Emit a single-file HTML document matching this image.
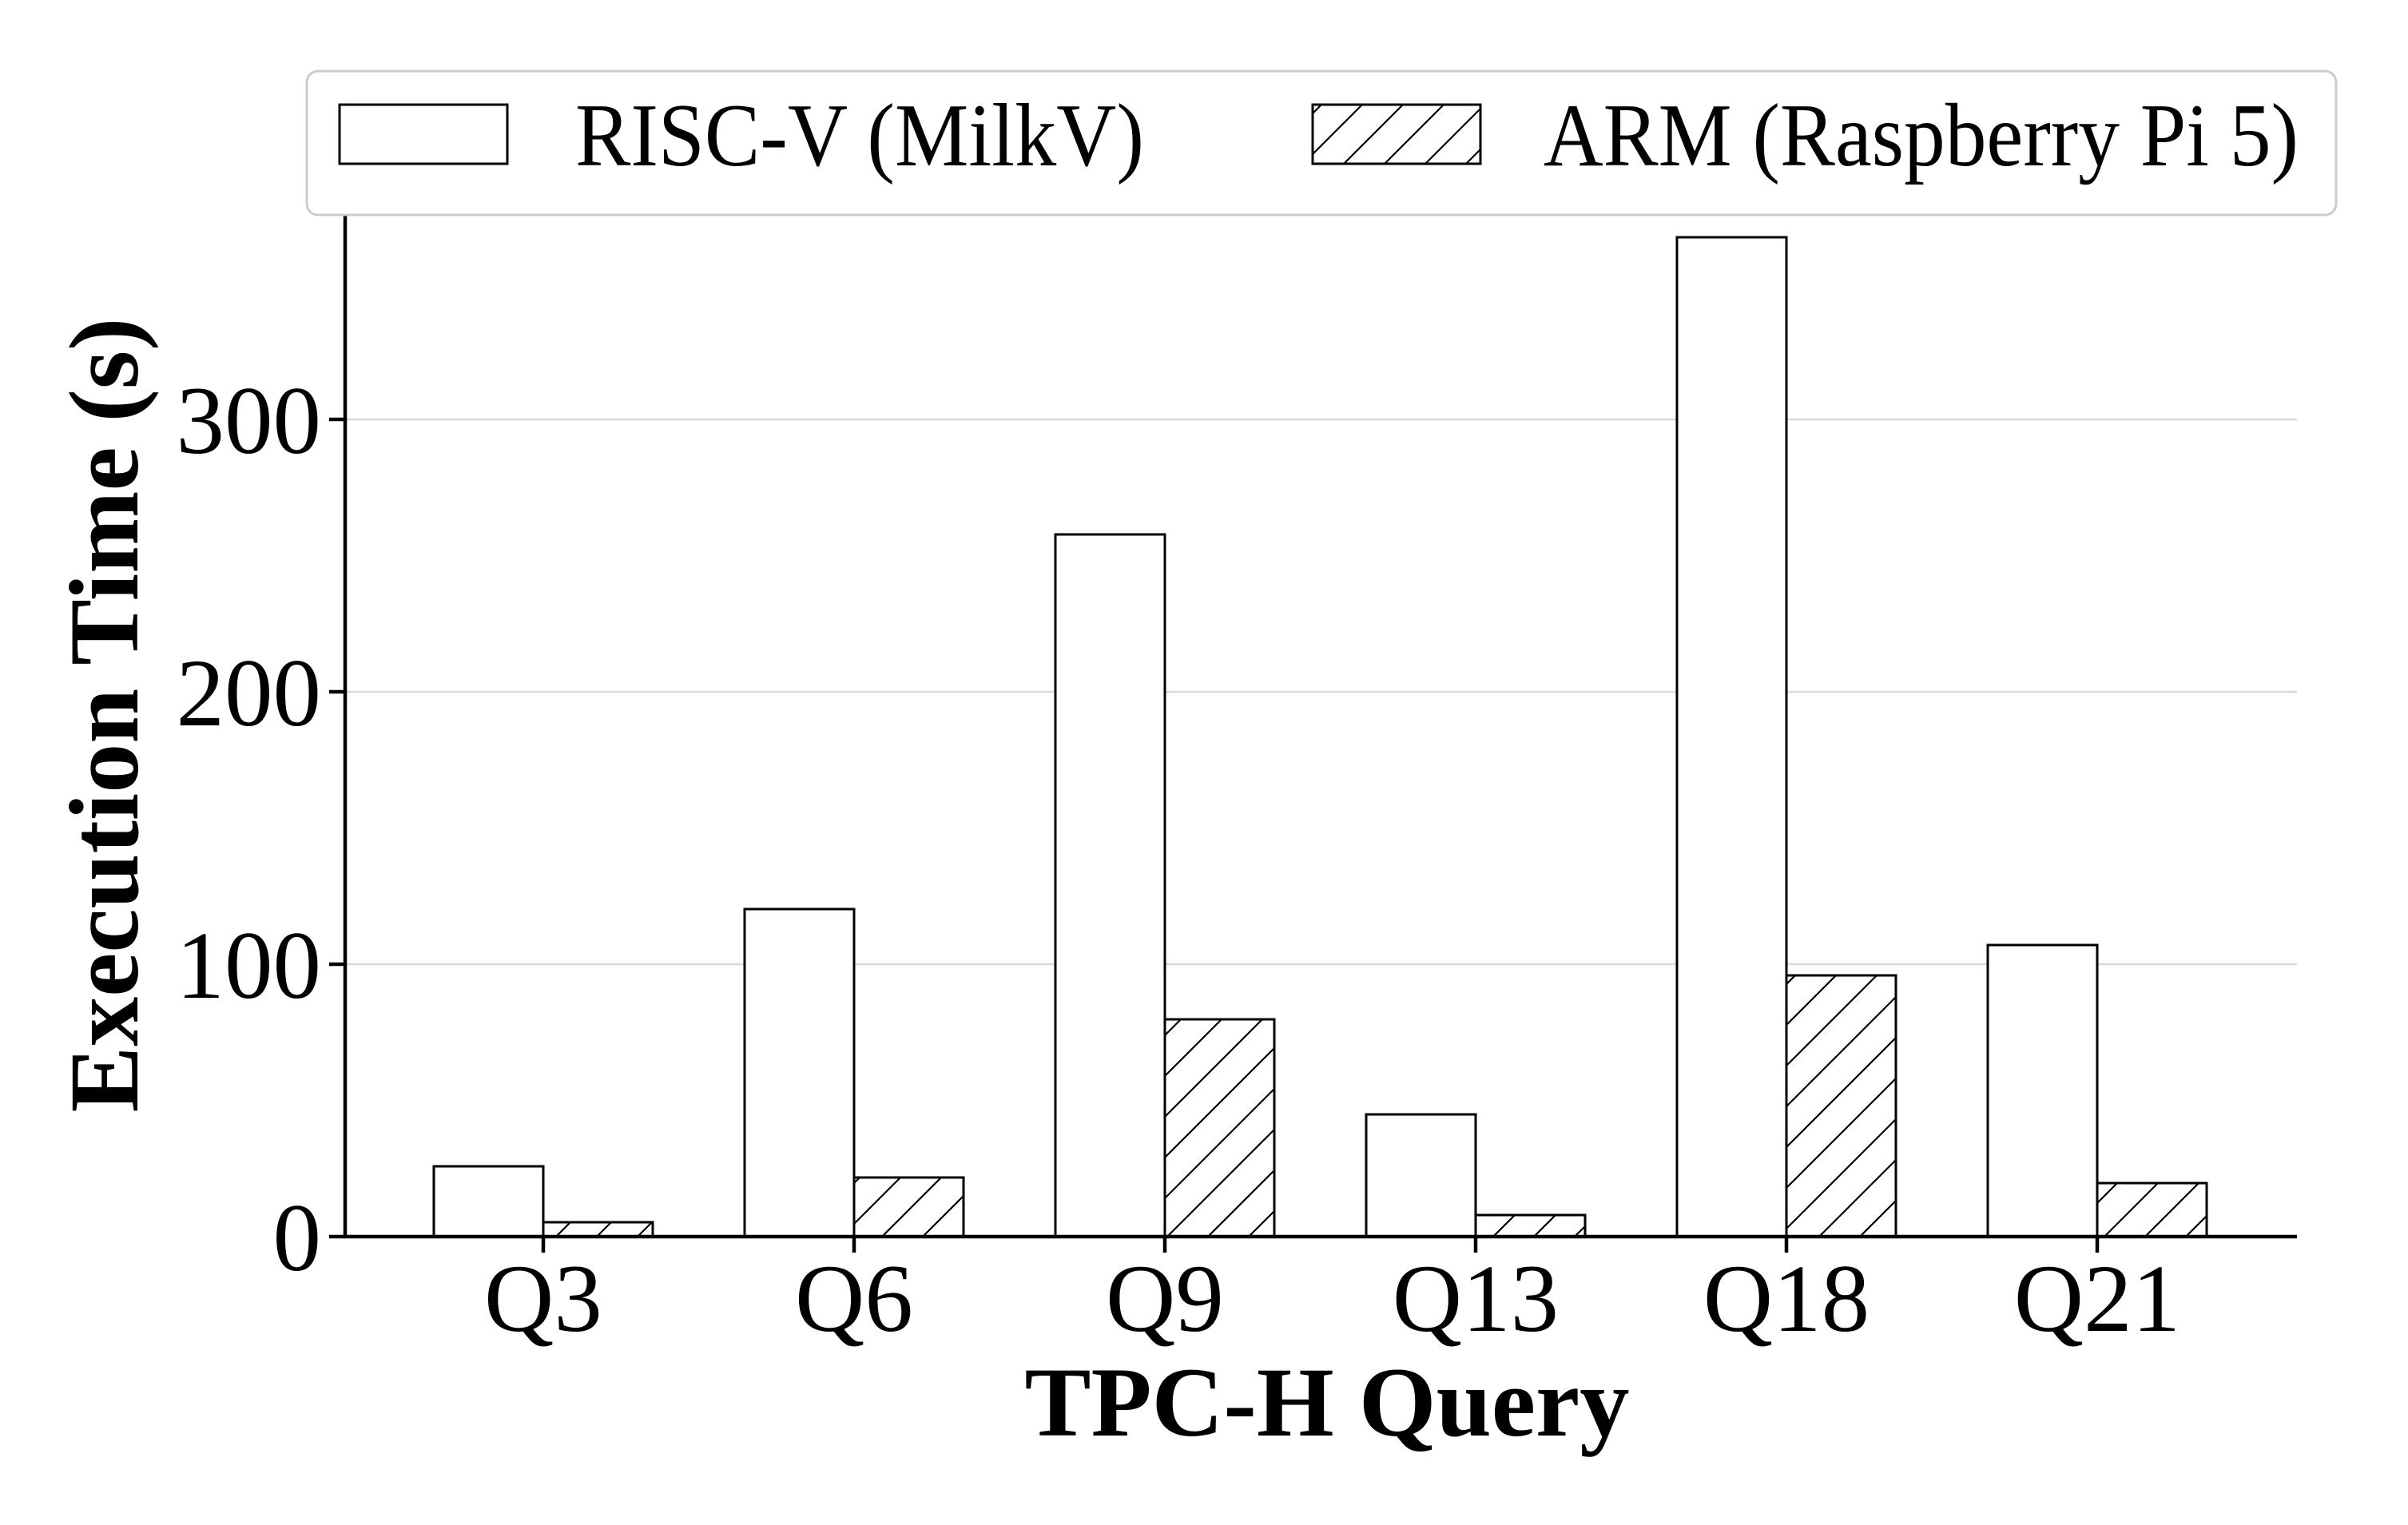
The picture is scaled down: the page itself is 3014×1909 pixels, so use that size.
<!DOCTYPE html>
<html><head><meta charset="utf-8"><style>html,body{margin:0;padding:0;background:#fff}svg{display:block}</style></head>
<body>
<svg width="3014" height="1909" viewBox="0 0 3014 1909" xmlns="http://www.w3.org/2000/svg" font-family="Liberation Serif, serif">
<defs>
<pattern id="h" patternUnits="userSpaceOnUse" width="51" height="51">
<path d="M-5,56 L56,-5 M-30,30 L30,-30 M21,81 L81,21" stroke="#000" stroke-width="2.2"/>
</pattern>
</defs>
<rect width="3014" height="1909" fill="#fff"/>
<g stroke="#d9d9d9" stroke-width="2.5">
<line x1="432" y1="1207" x2="2875" y2="1207"/>
<line x1="432" y1="866" x2="2875" y2="866"/>
<line x1="432" y1="525" x2="2875" y2="525"/>
</g>
<g stroke="#000" stroke-width="3">
<!-- Q3 -->
<rect x="543" y="1460" width="137" height="88" fill="#fff"/>
<rect x="680" y="1530" width="137" height="18" fill="url(#h)"/>
<!-- Q6 -->
<rect x="932" y="1138" width="137" height="410" fill="#fff"/>
<rect x="1069" y="1474" width="137" height="74" fill="url(#h)"/>
<!-- Q9 -->
<rect x="1321" y="669" width="137" height="879" fill="#fff"/>
<rect x="1458" y="1276" width="137" height="272" fill="url(#h)"/>
<!-- Q13 -->
<rect x="1710" y="1395" width="137" height="153" fill="#fff"/>
<rect x="1847" y="1521" width="137" height="27" fill="url(#h)"/>
<!-- Q18 -->
<rect x="2099" y="297" width="137" height="1251" fill="#fff"/>
<rect x="2236" y="1221" width="137" height="327" fill="url(#h)"/>
<!-- Q21 -->
<rect x="2488" y="1183" width="137" height="365" fill="#fff"/>
<rect x="2625" y="1481" width="137" height="67" fill="url(#h)"/>
</g>
<g stroke="#000" stroke-width="4.5">
<line x1="432" y1="269" x2="432" y2="1550"/>
<line x1="430" y1="1548" x2="2875" y2="1548"/>
<line x1="412" y1="1548" x2="432" y2="1548"/>
<line x1="412" y1="1207" x2="432" y2="1207"/>
<line x1="412" y1="866" x2="432" y2="866"/>
<line x1="412" y1="525" x2="432" y2="525"/>
<line x1="680" y1="1548" x2="680" y2="1568"/>
<line x1="1069" y1="1548" x2="1069" y2="1568"/>
<line x1="1458" y1="1548" x2="1458" y2="1568"/>
<line x1="1847" y1="1548" x2="1847" y2="1568"/>
<line x1="2236" y1="1548" x2="2236" y2="1568"/>
<line x1="2625" y1="1548" x2="2625" y2="1568"/>
</g>
<g font-size="121" text-anchor="end" fill="#000">
<text x="402" y="1590">0</text>
<text x="402" y="1249">100</text>
<text x="402" y="908">200</text>
<text x="402" y="567">300</text>
</g>
<g font-size="121" text-anchor="middle" fill="#000">
<text x="680" y="1666">Q3</text>
<text x="1069" y="1666">Q6</text>
<text x="1458" y="1666">Q9</text>
<text x="1847" y="1666">Q13</text>
<text x="2236" y="1666">Q18</text>
<text x="2625" y="1666">Q21</text>
</g>
<text x="1661" y="1797" font-size="124" font-weight="bold" text-anchor="middle" textLength="757" lengthAdjust="spacingAndGlyphs">TPC-H Query</text>
<text transform="translate(172,895) rotate(-90)" font-size="124" font-weight="bold" text-anchor="middle" textLength="995" lengthAdjust="spacingAndGlyphs">Execution Time (s)</text>
<rect x="384" y="89" width="2540" height="180" rx="14" fill="#fff" fill-opacity="0.85" stroke="#cccccc" stroke-width="3"/>
<rect x="425" y="131" width="210" height="74" fill="#fff" stroke="#000" stroke-width="3"/>
<rect x="1643" y="131" width="210" height="74" fill="url(#h)" stroke="#000" stroke-width="3"/>
<text x="720" y="207" font-size="112" textLength="712" lengthAdjust="spacingAndGlyphs">RISC-V (MilkV)</text>
<text x="1932" y="207" font-size="112" textLength="945" lengthAdjust="spacingAndGlyphs">ARM (Raspberry Pi 5)</text>
</svg>
</body></html>
